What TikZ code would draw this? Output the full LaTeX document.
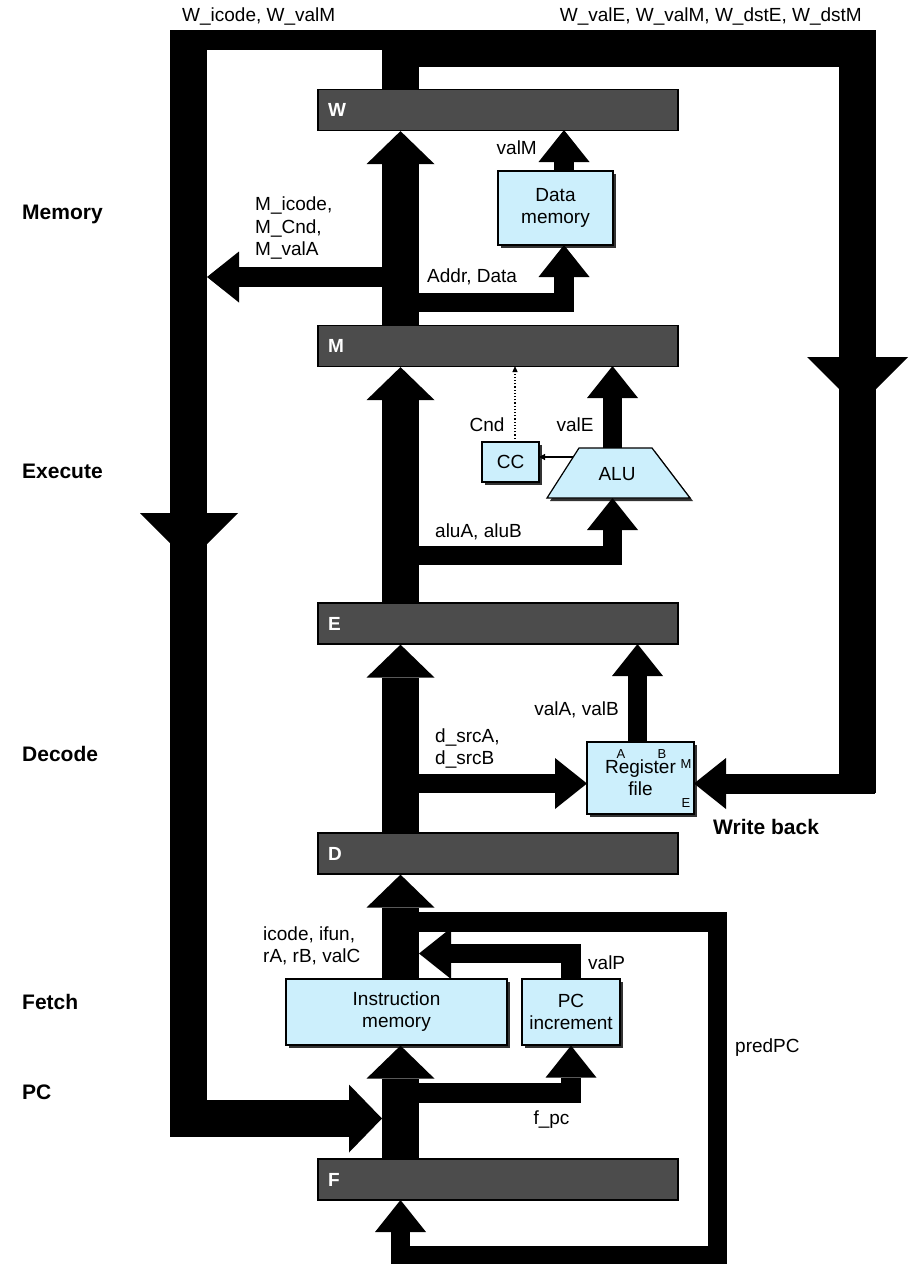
\documentclass[tikz,border=0pt]{standalone}
\usepackage{fontspec}
\setmainfont{Liberation Sans}
\usetikzlibrary{arrows.meta,shadows}
\tikzset{
  bus/.style={line width=37pt},
  wire/.style={line width=19.5pt},
  bighead/.style={-{Triangle[length=33pt,width=68pt,line width=0pt]}},
  head/.style={-{Triangle[length=32pt,width=51pt,line width=0pt]}},
  block/.style={draw=black,line width=1.2pt,fill=cyan!20,drop shadow={shadow xshift=3pt,shadow yshift=-3pt,opacity=1,fill=black!80}},
  unit/.style={block,align=center,font=\fontsize{19}{22}\selectfont},
  pipereg/.style={draw=black,line width=1.2pt,fill=black!70,minimum width=360pt,minimum height=41pt,text width=340pt,inner xsep=10pt,align=left,text=white,font=\fontsize{19}{22}\selectfont\bfseries},
  lbl/.style={font=\fontsize{19}{22.5}\selectfont,align=left},
  stage/.style={font=\fontsize{21}{24}\selectfont\bfseries,anchor=west},
  port/.style={font=\fontsize{13}{14}\selectfont},
}
\begin{document}
\begin{tikzpicture}[x=1pt,y=1pt,line join=miter]
\tikzstyle{every node}+=[inner sep=0pt]
\useasboundingbox (0,0) rectangle (910,-1264);
\node[stage] (smem) at (22,-214) {Memory};
\node[stage] (sexe) at (22,-471) {Execute};
\node[stage] (sdec) at (22,-754) {Decode};
\node[stage] (sfet) at (22,-1002) {Fetch};
\node[stage] (spc) at (22,-1092) {PC};

\node[pipereg] (W) at (498,-110) {W};
\node[pipereg] (M) at (498,-346) {M};
\node[pipereg] (E) at (498,-623.5) {E};
\node[pipereg] (D) at (498,-853.5) {D};
\node[pipereg] (F) at (498,-1179.5) {F};

\node[unit,minimum width=115pt,minimum height=74pt] (dmem) at (555.5,-208) {Data\\memory};
\node[unit,minimum width=57pt,minimum height=40pt] (cc) at (510.5,-462) {CC};
\node[unit,minimum width=107pt,minimum height=72pt] (regs) at (640.5,-778) {Register\\file};
\node[unit,minimum width=221pt,minimum height=66pt] (imem) at (396.5,-1012) {Instruction\\memory};
\node[unit,minimum width=98pt,minimum height=66pt] (pcinc) at (571,-1012) {PC\\increment};
\draw[block] (547,-498) -- (579,-448) -- (652,-448) -- (690,-498) -- cycle;
\node[lbl] (alu) at (617,-474) {ALU};
\node[port] (pa) at (621,-754) {A};
\node[port] (pb) at (662,-754) {B};
\node[port] (pm) at (686,-764) {M};
\node[port] (pe) at (686,-803) {E};

\coordinate (col) at (400.5,0);
\coordinate (top) at (0,-30);
\coordinate (lbus) at (188.5,-30);
\coordinate (pcin) at (382,-1118.5);
\coordinate (wbl) at (419,-40);
\coordinate (wbl2) at (170,-40);
\coordinate (wbr) at (382,-48.5);
\coordinate (wbr2) at (857,-793);
\coordinate (wbin) at (875,-783.5);
\coordinate (regr) at (694,-783.5);
\coordinate (regl) at (587,-783.5);
\coordinate (dsrc) at (400,-783.5);
\coordinate (mic) at (400,-277);
\coordinate (mic2) at (207,-277);
\coordinate (addr) at (400,-302.5);
\coordinate (dmin) at (564,-245);
\coordinate (dmout) at (564,-171);
\coordinate (wvalm) at (564,-130);
\coordinate (alusrc) at (400,-555.5);
\coordinate (aluin) at (612.5,-498);
\coordinate (aluout) at (612.5,-448);
\coordinate (mvale) at (612.5,-366);
\coordinate (alul) at (573,-457);
\coordinate (ccin) at (539,-457);
\coordinate (cctop) at (515,-442);
\coordinate (mcnd) at (515,-366);
\coordinate (regtop) at (637.5,-742);
\coordinate (evala) at (637.5,-644);
\coordinate (pred) at (400,-922);
\coordinate (predc) at (717.5,-1255.5);
\coordinate (fin) at (400.5,-1200);
\coordinate (valpin) at (419,-953.5);
\coordinate (fpc) at (400,-1093);
\coordinate (lmid) at (189,-513);
\coordinate (rmid) at (857.5,-357);

\draw[bus,bighead] (F.north -| col) -- (imem.south -| col);
\draw[bus,bighead] (imem.north -| col) -- (D.south -| col);
\draw[bus,bighead] (D.north -| col) -- (E.south -| col);
\draw[bus,bighead] (E.north -| col) -- (M.south -| col);
\draw[bus,bighead] (M.north -| col) -- (W.south -| col);
\draw[bus] (W.north -| col) -- (col |- top);
\draw[line width=20pt] (wbl) -- (wbl2);
\draw[bus,bighead] (lbus) |- (pcin);
\draw[bus] (wbr) -| (wbr2);
\draw[line width=20pt,head] (wbin) -- (regr);
\fill (lmid) +(-49,0) -- +(49,0) -- +(0,-49) -- cycle;
\fill (rmid) +(-50.5,0) -- +(50.5,0) -- +(0,-50.5) -- cycle;

\draw[wire,head] (mic) -- (mic2);
\draw[wire,head] (addr) -| (dmin);
\draw[wire,head] (dmout) -- (wvalm);
\draw[wire,head] (alusrc) -| (aluin);
\draw[wire,head] (aluout) -- (mvale);
\draw[line width=1.2pt,-{Triangle[length=6pt,width=6pt]}] (alul) -- (ccin);
\draw[line width=1.2pt,dotted,-{Triangle[length=6pt,width=5pt]}] (cctop) -- (mcnd);
\draw[wire,head] (dsrc) -- (regl);
\draw[wire,head] (regtop) -- (evala);
\draw[wire,head] (pred) -| (predc) -| (fin);
\draw[wire,head] (pcinc.north) |- (valpin);
\draw[wire,head] (fpc) -| (pcinc.south);

\node[lbl,anchor=west] (lwic) at (182,-17) {W\_icode, W\_valM};
\node[lbl,anchor=east] (lwval) at (862,-17) {W\_valE, W\_valM, W\_dstE, W\_dstM};
\node[lbl,anchor=east] (lvalm) at (537,-148) {valM};
\node[lbl,anchor=west] (lmic) at (255,-228) {M\_icode,\\M\_Cnd,\\M\_valA};
\node[lbl,anchor=west] (laddr) at (427,-277) {Addr, Data};
\node[lbl] (lcnd) at (487,-425) {Cnd};
\node[lbl] (lvale) at (575,-425) {valE};
\node[lbl] (lalu) at (478.5,-532) {aluA, aluB};
\node[lbl] (lvala) at (576.5,-710) {valA, valB};
\node[lbl,anchor=west] (ldsrc) at (435,-748.5) {d\_srcA,\\d\_srcB};
\node[stage] (lwb) at (713,-827) {Write back};
\node[lbl,anchor=west] (licode) at (263,-946) {icode, ifun,\\rA, rB, valC};
\node[lbl,anchor=west] (lvalp) at (588,-963) {valP};
\node[lbl,anchor=west] (lpred) at (735,-1048) {predPC};
\node[lbl] (lfpc) at (551.5,-1120) {f\_pc};
\end{tikzpicture}
\end{document}
